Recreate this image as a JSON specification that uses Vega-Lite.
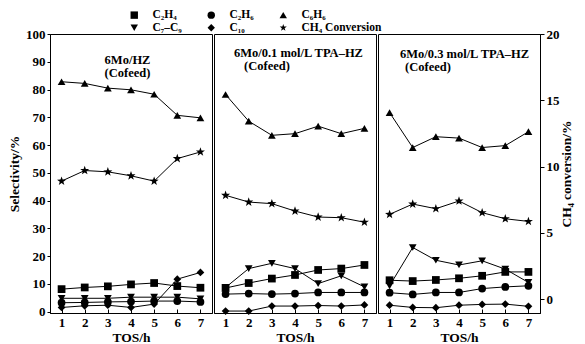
{
  "$schema": "https://vega.github.io/schema/vega-lite/v6.json",
  "autosize": {"type": "pad"},
  "padding": {"left": 7, "top": 9, "right": 5, "bottom": 3},
  "background": "white",
  "spacing": 0,
  "config": {
    "view": {"stroke": "black", "strokeWidth": 1},
    "axis": {"labelFont": "Liberation Serif", "labelFontSize": 13, "labelFontWeight": "bold", "labelColor": "black", "titleFont": "Liberation Serif", "titleFontSize": 13.5, "titleFontWeight": "bold", "titleColor": "black", "domainColor": "black", "tickColor": "black", "grid": false},
    "text": {"font": "Liberation Serif", "fontWeight": "bold", "fontSize": 12.5, "color": "black"}
  },
  "data": {"values": [
    {"panel": "A", "series": "C₂H₄", "tos": 1, "value": 8.1}, {"panel": "A", "series": "C₂H₄", "tos": 2, "value": 8.7}, {"panel": "A", "series": "C₂H₄", "tos": 3, "value": 9.1}, {"panel": "A", "series": "C₂H₄", "tos": 4, "value": 9.8}, {"panel": "A", "series": "C₂H₄", "tos": 5, "value": 10.3}, {"panel": "A", "series": "C₂H₄", "tos": 6, "value": 9.2}, {"panel": "A", "series": "C₂H₄", "tos": 7, "value": 8.6},
    {"panel": "A", "series": "C₂H₆", "tos": 1, "value": 3.2}, {"panel": "A", "series": "C₂H₆", "tos": 2, "value": 3.3}, {"panel": "A", "series": "C₂H₆", "tos": 3, "value": 3.5}, {"panel": "A", "series": "C₂H₆", "tos": 4, "value": 3.6}, {"panel": "A", "series": "C₂H₆", "tos": 5, "value": 3.8}, {"panel": "A", "series": "C₂H₆", "tos": 6, "value": 3.8}, {"panel": "A", "series": "C₂H₆", "tos": 7, "value": 3.5},
    {"panel": "A", "series": "C₆H₆", "tos": 1, "value": 82.8}, {"panel": "A", "series": "C₆H₆", "tos": 2, "value": 82.2}, {"panel": "A", "series": "C₆H₆", "tos": 3, "value": 80.5}, {"panel": "A", "series": "C₆H₆", "tos": 4, "value": 79.9}, {"panel": "A", "series": "C₆H₆", "tos": 5, "value": 78.3}, {"panel": "A", "series": "C₆H₆", "tos": 6, "value": 70.7}, {"panel": "A", "series": "C₆H₆", "tos": 7, "value": 69.8},
    {"panel": "A", "series": "C₇–C₉", "tos": 1, "value": 4.8}, {"panel": "A", "series": "C₇–C₉", "tos": 2, "value": 4.8}, {"panel": "A", "series": "C₇–C₉", "tos": 3, "value": 4.8}, {"panel": "A", "series": "C₇–C₉", "tos": 4, "value": 5.2}, {"panel": "A", "series": "C₇–C₉", "tos": 5, "value": 5.2}, {"panel": "A", "series": "C₇–C₉", "tos": 6, "value": 5.2}, {"panel": "A", "series": "C₇–C₉", "tos": 7, "value": 4.6},
    {"panel": "A", "series": "C₁₀", "tos": 1, "value": 1.5}, {"panel": "A", "series": "C₁₀", "tos": 2, "value": 2.1}, {"panel": "A", "series": "C₁₀", "tos": 3, "value": 2.3}, {"panel": "A", "series": "C₁₀", "tos": 4, "value": 1.5}, {"panel": "A", "series": "C₁₀", "tos": 5, "value": 2.7}, {"panel": "A", "series": "C₁₀", "tos": 6, "value": 11.7}, {"panel": "A", "series": "C₁₀", "tos": 7, "value": 14.1},
    {"panel": "A", "series": "CH₄ Conversion", "tos": 1, "value": 8.9}, {"panel": "A", "series": "CH₄ Conversion", "tos": 2, "value": 9.7}, {"panel": "A", "series": "CH₄ Conversion", "tos": 3, "value": 9.6}, {"panel": "A", "series": "CH₄ Conversion", "tos": 4, "value": 9.3}, {"panel": "A", "series": "CH₄ Conversion", "tos": 5, "value": 8.9}, {"panel": "A", "series": "CH₄ Conversion", "tos": 6, "value": 10.6}, {"panel": "A", "series": "CH₄ Conversion", "tos": 7, "value": 11.1},
    {"panel": "B", "series": "C₂H₄", "tos": 1, "value": 8.5}, {"panel": "B", "series": "C₂H₄", "tos": 2, "value": 10.3}, {"panel": "B", "series": "C₂H₄", "tos": 3, "value": 11.9}, {"panel": "B", "series": "C₂H₄", "tos": 4, "value": 13.2}, {"panel": "B", "series": "C₂H₄", "tos": 5, "value": 15.0}, {"panel": "B", "series": "C₂H₄", "tos": 6, "value": 15.5}, {"panel": "B", "series": "C₂H₄", "tos": 7, "value": 16.8},
    {"panel": "B", "series": "C₂H₆", "tos": 1, "value": 6.3}, {"panel": "B", "series": "C₂H₆", "tos": 2, "value": 6.5}, {"panel": "B", "series": "C₂H₆", "tos": 3, "value": 6.3}, {"panel": "B", "series": "C₂H₆", "tos": 4, "value": 6.5}, {"panel": "B", "series": "C₂H₆", "tos": 5, "value": 6.9}, {"panel": "B", "series": "C₂H₆", "tos": 6, "value": 6.9}, {"panel": "B", "series": "C₂H₆", "tos": 7, "value": 6.9},
    {"panel": "B", "series": "C₆H₆", "tos": 1, "value": 78.2}, {"panel": "B", "series": "C₆H₆", "tos": 2, "value": 68.6}, {"panel": "B", "series": "C₆H₆", "tos": 3, "value": 63.5}, {"panel": "B", "series": "C₆H₆", "tos": 4, "value": 64.1}, {"panel": "B", "series": "C₆H₆", "tos": 5, "value": 66.8}, {"panel": "B", "series": "C₆H₆", "tos": 6, "value": 64.1}, {"panel": "B", "series": "C₆H₆", "tos": 7, "value": 66.0},
    {"panel": "B", "series": "C₇–C₉", "tos": 1, "value": 8.7}, {"panel": "B", "series": "C₇–C₉", "tos": 2, "value": 15.5}, {"panel": "B", "series": "C₇–C₉", "tos": 3, "value": 17.4}, {"panel": "B", "series": "C₇–C₉", "tos": 4, "value": 15.5}, {"panel": "B", "series": "C₇–C₉", "tos": 5, "value": 10.1}, {"panel": "B", "series": "C₇–C₉", "tos": 6, "value": 12.9}, {"panel": "B", "series": "C₇–C₉", "tos": 7, "value": 8.9},
    {"panel": "B", "series": "C₁₀", "tos": 1, "value": 0.2}, {"panel": "B", "series": "C₁₀", "tos": 2, "value": 0.2}, {"panel": "B", "series": "C₁₀", "tos": 3, "value": 2.0}, {"panel": "B", "series": "C₁₀", "tos": 4, "value": 2.0}, {"panel": "B", "series": "C₁₀", "tos": 5, "value": 2.2}, {"panel": "B", "series": "C₁₀", "tos": 6, "value": 2.0}, {"panel": "B", "series": "C₁₀", "tos": 7, "value": 2.4},
    {"panel": "B", "series": "CH₄ Conversion", "tos": 1, "value": 7.83}, {"panel": "B", "series": "CH₄ Conversion", "tos": 2, "value": 7.32}, {"panel": "B", "series": "CH₄ Conversion", "tos": 3, "value": 7.2}, {"panel": "B", "series": "CH₄ Conversion", "tos": 4, "value": 6.64}, {"panel": "B", "series": "CH₄ Conversion", "tos": 5, "value": 6.19}, {"panel": "B", "series": "CH₄ Conversion", "tos": 6, "value": 6.14}, {"panel": "B", "series": "CH₄ Conversion", "tos": 7, "value": 5.8},
    {"panel": "C", "series": "C₂H₄", "tos": 1, "value": 11.3}, {"panel": "C", "series": "C₂H₄", "tos": 2, "value": 11.0}, {"panel": "C", "series": "C₂H₄", "tos": 3, "value": 11.4}, {"panel": "C", "series": "C₂H₄", "tos": 4, "value": 12.0}, {"panel": "C", "series": "C₂H₄", "tos": 5, "value": 12.9}, {"panel": "C", "series": "C₂H₄", "tos": 6, "value": 14.3}, {"panel": "C", "series": "C₂H₄", "tos": 7, "value": 14.3},
    {"panel": "C", "series": "C₂H₆", "tos": 1, "value": 6.8}, {"panel": "C", "series": "C₂H₆", "tos": 2, "value": 6.2}, {"panel": "C", "series": "C₂H₆", "tos": 3, "value": 6.9}, {"panel": "C", "series": "C₂H₆", "tos": 4, "value": 6.9}, {"panel": "C", "series": "C₂H₆", "tos": 5, "value": 8.3}, {"panel": "C", "series": "C₂H₆", "tos": 6, "value": 8.9}, {"panel": "C", "series": "C₂H₆", "tos": 7, "value": 9.3},
    {"panel": "C", "series": "C₆H₆", "tos": 1, "value": 71.7}, {"panel": "C", "series": "C₆H₆", "tos": 2, "value": 59.1}, {"panel": "C", "series": "C₆H₆", "tos": 3, "value": 63.0}, {"panel": "C", "series": "C₆H₆", "tos": 4, "value": 62.5}, {"panel": "C", "series": "C₆H₆", "tos": 5, "value": 59.1}, {"panel": "C", "series": "C₆H₆", "tos": 6, "value": 59.8}, {"panel": "C", "series": "C₆H₆", "tos": 7, "value": 64.8},
    {"panel": "C", "series": "C₇–C₉", "tos": 1, "value": 9.3}, {"panel": "C", "series": "C₇–C₉", "tos": 2, "value": 23.1}, {"panel": "C", "series": "C₇–C₉", "tos": 3, "value": 18.5}, {"panel": "C", "series": "C₇–C₉", "tos": 4, "value": 16.8}, {"panel": "C", "series": "C₇–C₉", "tos": 5, "value": 18.3}, {"panel": "C", "series": "C₇–C₉", "tos": 6, "value": 15.3}, {"panel": "C", "series": "C₇–C₉", "tos": 7, "value": 10.5},
    {"panel": "C", "series": "C₁₀", "tos": 1, "value": 2.3}, {"panel": "C", "series": "C₁₀", "tos": 2, "value": 1.5}, {"panel": "C", "series": "C₁₀", "tos": 3, "value": 1.4}, {"panel": "C", "series": "C₁₀", "tos": 4, "value": 2.3}, {"panel": "C", "series": "C₁₀", "tos": 5, "value": 2.6}, {"panel": "C", "series": "C₁₀", "tos": 6, "value": 2.7}, {"panel": "C", "series": "C₁₀", "tos": 7, "value": 1.9},
    {"panel": "C", "series": "CH₄ Conversion", "tos": 1, "value": 6.39}, {"panel": "C", "series": "CH₄ Conversion", "tos": 2, "value": 7.17}, {"panel": "C", "series": "CH₄ Conversion", "tos": 3, "value": 6.82}, {"panel": "C", "series": "CH₄ Conversion", "tos": 4, "value": 7.4}, {"panel": "C", "series": "CH₄ Conversion", "tos": 5, "value": 6.52}, {"panel": "C", "series": "CH₄ Conversion", "tos": 6, "value": 6.06}, {"panel": "C", "series": "CH₄ Conversion", "tos": 7, "value": 5.86}
  ]},
  "hconcat": [
    {
      "width": 162, "height": 279,
      "layer": [
        {
          "transform": [{"filter": "datum.panel === 'A' && datum.series !== 'CH₄ Conversion'"}],
          "layer": [
            {"mark": {"type": "line", "color": "black", "strokeWidth": 1},
             "encoding": {
               "x": {"field": "tos", "type": "quantitative", "scale": {"domain": [0.5, 7.5], "nice": false, "zero": false}, "axis": {"values": [1, 2, 3, 4, 5, 6, 7], "title": "TOS/h", "tickSize": -4, "labelPadding": 7, "titlePadding": 1}},
               "y": {"field": "value", "type": "quantitative", "scale": {"domain": [-0.5, 100], "nice": false, "zero": false}, "axis": {"orient": "left", "values": [0, 10, 20, 30, 40, 50, 60, 70, 80, 90, 100], "title": "Selectivity/%", "tickSize": 3, "labelPadding": 2, "titlePadding": 4}},
               "detail": {"field": "series"}}},
            {"mark": {"type": "point", "filled": true, "color": "black", "size": 60, "opacity": 1},
             "encoding": {
               "x": {"field": "tos", "type": "quantitative", "scale": {"domain": [0.5, 7.5], "nice": false, "zero": false}, "axis": {"values": [1, 2, 3, 4, 5, 6, 7], "title": "TOS/h", "tickSize": -4, "labelPadding": 7, "titlePadding": 1}},
               "y": {"field": "value", "type": "quantitative", "scale": {"domain": [-0.5, 100], "nice": false, "zero": false}, "axis": {"orient": "left", "values": [0, 10, 20, 30, 40, 50, 60, 70, 80, 90, 100], "title": "Selectivity/%", "tickSize": 3, "labelPadding": 2, "titlePadding": 4}},
               "shape": {"field": "series", "type": "nominal",
                 "scale": {"domain": ["C₂H₄", "C₂H₆", "C₆H₆", "C₇–C₉", "C₁₀", "CH₄ Conversion"], "range": ["square", "circle", "triangle-up", "triangle-down", "diamond", "M0,-1L0.235,-0.324L0.951,-0.309L0.38,0.124L0.588,0.809L0,0.4L-0.588,0.809L-0.38,0.124L-0.951,-0.309L-0.235,-0.324Z"]},
                 "legend": {"title": null, "orient": "none", "direction": "horizontal", "legendX": 78.5, "legendY": -25, "columns": 3, "columnPadding": 23, "rowPadding": 0, "symbolSize": 55, "symbolStrokeWidth": 0, "symbolFillColor": "black", "symbolStrokeColor": "black", "symbolOpacity": 1, "labelFont": "Liberation Serif", "labelFontSize": 11.5, "labelFontWeight": "bold", "labelColor": "black", "labelOffset": 12.5, "padding": 0}}}},
            {"data": {"values": [{}]}, "mark": {"type": "text", "align": "center", "baseline": "middle", "lineHeight": 13},
             "encoding": {
               "x": {"datum": 3.85, "type": "quantitative", "scale": {"domain": [0.5, 7.5], "nice": false, "zero": false}, "axis": {"values": [1, 2, 3, 4, 5, 6, 7], "title": "TOS/h", "tickSize": -4, "labelPadding": 7, "titlePadding": 1}},
               "y": {"datum": 90.5, "type": "quantitative", "scale": {"domain": [-0.5, 100], "nice": false, "zero": false}, "axis": {"orient": "left", "values": [0, 10, 20, 30, 40, 50, 60, 70, 80, 90, 100], "title": "Selectivity/%", "tickSize": 3, "labelPadding": 2, "titlePadding": 4}},
               "text": {"value": ["6Mo/HZ", "(Cofeed)"]}}}
          ]
        },
        {
          "transform": [{"filter": "datum.panel === 'A' && datum.series === 'CH₄ Conversion'"}],
          "layer": [
            {"mark": {"type": "line", "color": "black", "strokeWidth": 1},
             "encoding": {
               "x": {"field": "tos", "type": "quantitative", "scale": {"domain": [0.5, 7.5], "nice": false, "zero": false}, "axis": {"values": [1, 2, 3, 4, 5, 6, 7], "title": "TOS/h", "tickSize": -4, "labelPadding": 7, "titlePadding": 1}},
               "y": {"field": "value", "type": "quantitative", "scale": {"domain": [-1.05, 20], "nice": false, "zero": false}, "axis": null}}},
            {"mark": {"type": "point", "filled": true, "color": "black", "size": 90, "opacity": 1},
             "encoding": {
               "x": {"field": "tos", "type": "quantitative", "scale": {"domain": [0.5, 7.5], "nice": false, "zero": false}, "axis": {"values": [1, 2, 3, 4, 5, 6, 7], "title": "TOS/h", "tickSize": -4, "labelPadding": 7, "titlePadding": 1}},
               "y": {"field": "value", "type": "quantitative", "scale": {"domain": [-1.05, 20], "nice": false, "zero": false}, "axis": null},
               "shape": {"field": "series", "type": "nominal", "legend": null, "scale": {"domain": ["C₂H₄", "C₂H₆", "C₆H₆", "C₇–C₉", "C₁₀", "CH₄ Conversion"], "range": ["square", "circle", "triangle-up", "triangle-down", "diamond", "M0,-1L0.235,-0.324L0.951,-0.309L0.38,0.124L0.588,0.809L0,0.4L-0.588,0.809L-0.38,0.124L-0.951,-0.309L-0.235,-0.324Z"]}}}}
          ]
        }
      ],
      "resolve": {"scale": {"y": "independent"}}
    },
    {
      "width": 162, "height": 279,
      "layer": [
        {
          "transform": [{"filter": "datum.panel === 'B' && datum.series !== 'CH₄ Conversion'"}],
          "layer": [
            {"mark": {"type": "line", "color": "black", "strokeWidth": 1},
             "encoding": {
               "x": {"field": "tos", "type": "quantitative", "scale": {"domain": [0.5, 7.5], "nice": false, "zero": false}, "axis": {"values": [1, 2, 3, 4, 5, 6, 7], "title": "TOS/h", "tickSize": -4, "labelPadding": 7, "titlePadding": 1}},
               "y": {"field": "value", "type": "quantitative", "scale": {"domain": [-0.5, 100], "nice": false, "zero": false}, "axis": null},
               "detail": {"field": "series"}}},
            {"mark": {"type": "point", "filled": true, "color": "black", "size": 60, "opacity": 1},
             "encoding": {
               "x": {"field": "tos", "type": "quantitative", "scale": {"domain": [0.5, 7.5], "nice": false, "zero": false}, "axis": {"values": [1, 2, 3, 4, 5, 6, 7], "title": "TOS/h", "tickSize": -4, "labelPadding": 7, "titlePadding": 1}},
               "y": {"field": "value", "type": "quantitative", "scale": {"domain": [-0.5, 100], "nice": false, "zero": false}, "axis": null},
               "shape": {"field": "series", "type": "nominal", "legend": null, "scale": {"domain": ["C₂H₄", "C₂H₆", "C₆H₆", "C₇–C₉", "C₁₀", "CH₄ Conversion"], "range": ["square", "circle", "triangle-up", "triangle-down", "diamond", "M0,-1L0.235,-0.324L0.951,-0.309L0.38,0.124L0.588,0.809L0,0.4L-0.588,0.809L-0.38,0.124L-0.951,-0.309L-0.235,-0.324Z"]}}}},
            {"data": {"values": [{}]}, "mark": {"type": "text", "align": "left", "baseline": "middle"},
             "encoding": {
               "x": {"datum": 1.36, "type": "quantitative", "scale": {"domain": [0.5, 7.5], "nice": false, "zero": false}, "axis": {"values": [1, 2, 3, 4, 5, 6, 7], "title": "TOS/h", "tickSize": -4, "labelPadding": 7, "titlePadding": 1}},
               "y": {"datum": 93.3, "type": "quantitative", "scale": {"domain": [-0.5, 100], "nice": false, "zero": false}, "axis": null},
               "text": {"value": "6Mo/0.1 mol/L TPA–HZ"}}},
            {"data": {"values": [{}]}, "mark": {"type": "text", "align": "left", "baseline": "middle"},
             "encoding": {
               "x": {"datum": 1.8, "type": "quantitative", "scale": {"domain": [0.5, 7.5], "nice": false, "zero": false}, "axis": {"values": [1, 2, 3, 4, 5, 6, 7], "title": "TOS/h", "tickSize": -4, "labelPadding": 7, "titlePadding": 1}},
               "y": {"datum": 88.5, "type": "quantitative", "scale": {"domain": [-0.5, 100], "nice": false, "zero": false}, "axis": null},
               "text": {"value": "(Cofeed)"}}}
          ]
        },
        {
          "transform": [{"filter": "datum.panel === 'B' && datum.series === 'CH₄ Conversion'"}],
          "layer": [
            {"mark": {"type": "line", "color": "black", "strokeWidth": 1},
             "encoding": {
               "x": {"field": "tos", "type": "quantitative", "scale": {"domain": [0.5, 7.5], "nice": false, "zero": false}, "axis": {"values": [1, 2, 3, 4, 5, 6, 7], "title": "TOS/h", "tickSize": -4, "labelPadding": 7, "titlePadding": 1}},
               "y": {"field": "value", "type": "quantitative", "scale": {"domain": [-1.05, 20], "nice": false, "zero": false}, "axis": null}}},
            {"mark": {"type": "point", "filled": true, "color": "black", "size": 90, "opacity": 1},
             "encoding": {
               "x": {"field": "tos", "type": "quantitative", "scale": {"domain": [0.5, 7.5], "nice": false, "zero": false}, "axis": {"values": [1, 2, 3, 4, 5, 6, 7], "title": "TOS/h", "tickSize": -4, "labelPadding": 7, "titlePadding": 1}},
               "y": {"field": "value", "type": "quantitative", "scale": {"domain": [-1.05, 20], "nice": false, "zero": false}, "axis": null},
               "shape": {"field": "series", "type": "nominal", "legend": null, "scale": {"domain": ["C₂H₄", "C₂H₆", "C₆H₆", "C₇–C₉", "C₁₀", "CH₄ Conversion"], "range": ["square", "circle", "triangle-up", "triangle-down", "diamond", "M0,-1L0.235,-0.324L0.951,-0.309L0.38,0.124L0.588,0.809L0,0.4L-0.588,0.809L-0.38,0.124L-0.951,-0.309L-0.235,-0.324Z"]}}}}
          ]
        }
      ],
      "resolve": {"scale": {"y": "independent"}}
    },
    {
      "width": 162, "height": 279,
      "layer": [
        {
          "transform": [{"filter": "datum.panel === 'C' && datum.series !== 'CH₄ Conversion'"}],
          "layer": [
            {"mark": {"type": "line", "color": "black", "strokeWidth": 1},
             "encoding": {
               "x": {"field": "tos", "type": "quantitative", "scale": {"domain": [0.5, 7.5], "nice": false, "zero": false}, "axis": {"values": [1, 2, 3, 4, 5, 6, 7], "title": "TOS/h", "tickSize": -4, "labelPadding": 7, "titlePadding": 1}},
               "y": {"field": "value", "type": "quantitative", "scale": {"domain": [-0.5, 100], "nice": false, "zero": false}, "axis": null},
               "detail": {"field": "series"}}},
            {"mark": {"type": "point", "filled": true, "color": "black", "size": 60, "opacity": 1},
             "encoding": {
               "x": {"field": "tos", "type": "quantitative", "scale": {"domain": [0.5, 7.5], "nice": false, "zero": false}, "axis": {"values": [1, 2, 3, 4, 5, 6, 7], "title": "TOS/h", "tickSize": -4, "labelPadding": 7, "titlePadding": 1}},
               "y": {"field": "value", "type": "quantitative", "scale": {"domain": [-0.5, 100], "nice": false, "zero": false}, "axis": null},
               "shape": {"field": "series", "type": "nominal", "legend": null, "scale": {"domain": ["C₂H₄", "C₂H₆", "C₆H₆", "C₇–C₉", "C₁₀", "CH₄ Conversion"], "range": ["square", "circle", "triangle-up", "triangle-down", "diamond", "M0,-1L0.235,-0.324L0.951,-0.309L0.38,0.124L0.588,0.809L0,0.4L-0.588,0.809L-0.38,0.124L-0.951,-0.309L-0.235,-0.324Z"]}}}},
            {"data": {"values": [{}]}, "mark": {"type": "text", "align": "left", "baseline": "middle"},
             "encoding": {
               "x": {"datum": 1.45, "type": "quantitative", "scale": {"domain": [0.5, 7.5], "nice": false, "zero": false}, "axis": {"values": [1, 2, 3, 4, 5, 6, 7], "title": "TOS/h", "tickSize": -4, "labelPadding": 7, "titlePadding": 1}},
               "y": {"datum": 92.8, "type": "quantitative", "scale": {"domain": [-0.5, 100], "nice": false, "zero": false}, "axis": null},
               "text": {"value": "6Mo/0.3 mol/L TPA–HZ"}}},
            {"data": {"values": [{}]}, "mark": {"type": "text", "align": "left", "baseline": "middle"},
             "encoding": {
               "x": {"datum": 1.67, "type": "quantitative", "scale": {"domain": [0.5, 7.5], "nice": false, "zero": false}, "axis": {"values": [1, 2, 3, 4, 5, 6, 7], "title": "TOS/h", "tickSize": -4, "labelPadding": 7, "titlePadding": 1}},
               "y": {"datum": 88, "type": "quantitative", "scale": {"domain": [-0.5, 100], "nice": false, "zero": false}, "axis": null},
               "text": {"value": "(Cofeed)"}}}
          ]
        },
        {
          "transform": [{"filter": "datum.panel === 'C' && datum.series === 'CH₄ Conversion'"}],
          "layer": [
            {"mark": {"type": "line", "color": "black", "strokeWidth": 1},
             "encoding": {
               "x": {"field": "tos", "type": "quantitative", "scale": {"domain": [0.5, 7.5], "nice": false, "zero": false}, "axis": {"values": [1, 2, 3, 4, 5, 6, 7], "title": "TOS/h", "tickSize": -4, "labelPadding": 7, "titlePadding": 1}},
               "y": {"field": "value", "type": "quantitative", "scale": {"domain": [-1.05, 20], "nice": false, "zero": false}, "axis": {"orient": "right", "values": [0, 5, 10, 15, 20], "title": "CH₄ conversion/%", "tickSize": 4, "labelPadding": 2, "titleAngle": 270, "titleBaseline": "top", "titlePadding": 0}}}},
            {"mark": {"type": "point", "filled": true, "color": "black", "size": 90, "opacity": 1},
             "encoding": {
               "x": {"field": "tos", "type": "quantitative", "scale": {"domain": [0.5, 7.5], "nice": false, "zero": false}, "axis": {"values": [1, 2, 3, 4, 5, 6, 7], "title": "TOS/h", "tickSize": -4, "labelPadding": 7, "titlePadding": 1}},
               "y": {"field": "value", "type": "quantitative", "scale": {"domain": [-1.05, 20], "nice": false, "zero": false}, "axis": {"orient": "right", "values": [0, 5, 10, 15, 20], "title": "CH₄ conversion/%", "tickSize": 4, "labelPadding": 2, "titleAngle": 270, "titleBaseline": "top", "titlePadding": 0}},
               "shape": {"field": "series", "type": "nominal", "legend": null, "scale": {"domain": ["C₂H₄", "C₂H₆", "C₆H₆", "C₇–C₉", "C₁₀", "CH₄ Conversion"], "range": ["square", "circle", "triangle-up", "triangle-down", "diamond", "M0,-1L0.235,-0.324L0.951,-0.309L0.38,0.124L0.588,0.809L0,0.4L-0.588,0.809L-0.38,0.124L-0.951,-0.309L-0.235,-0.324Z"]}}}}
          ]
        }
      ],
      "resolve": {"scale": {"y": "independent"}}
    }
  ]
}
